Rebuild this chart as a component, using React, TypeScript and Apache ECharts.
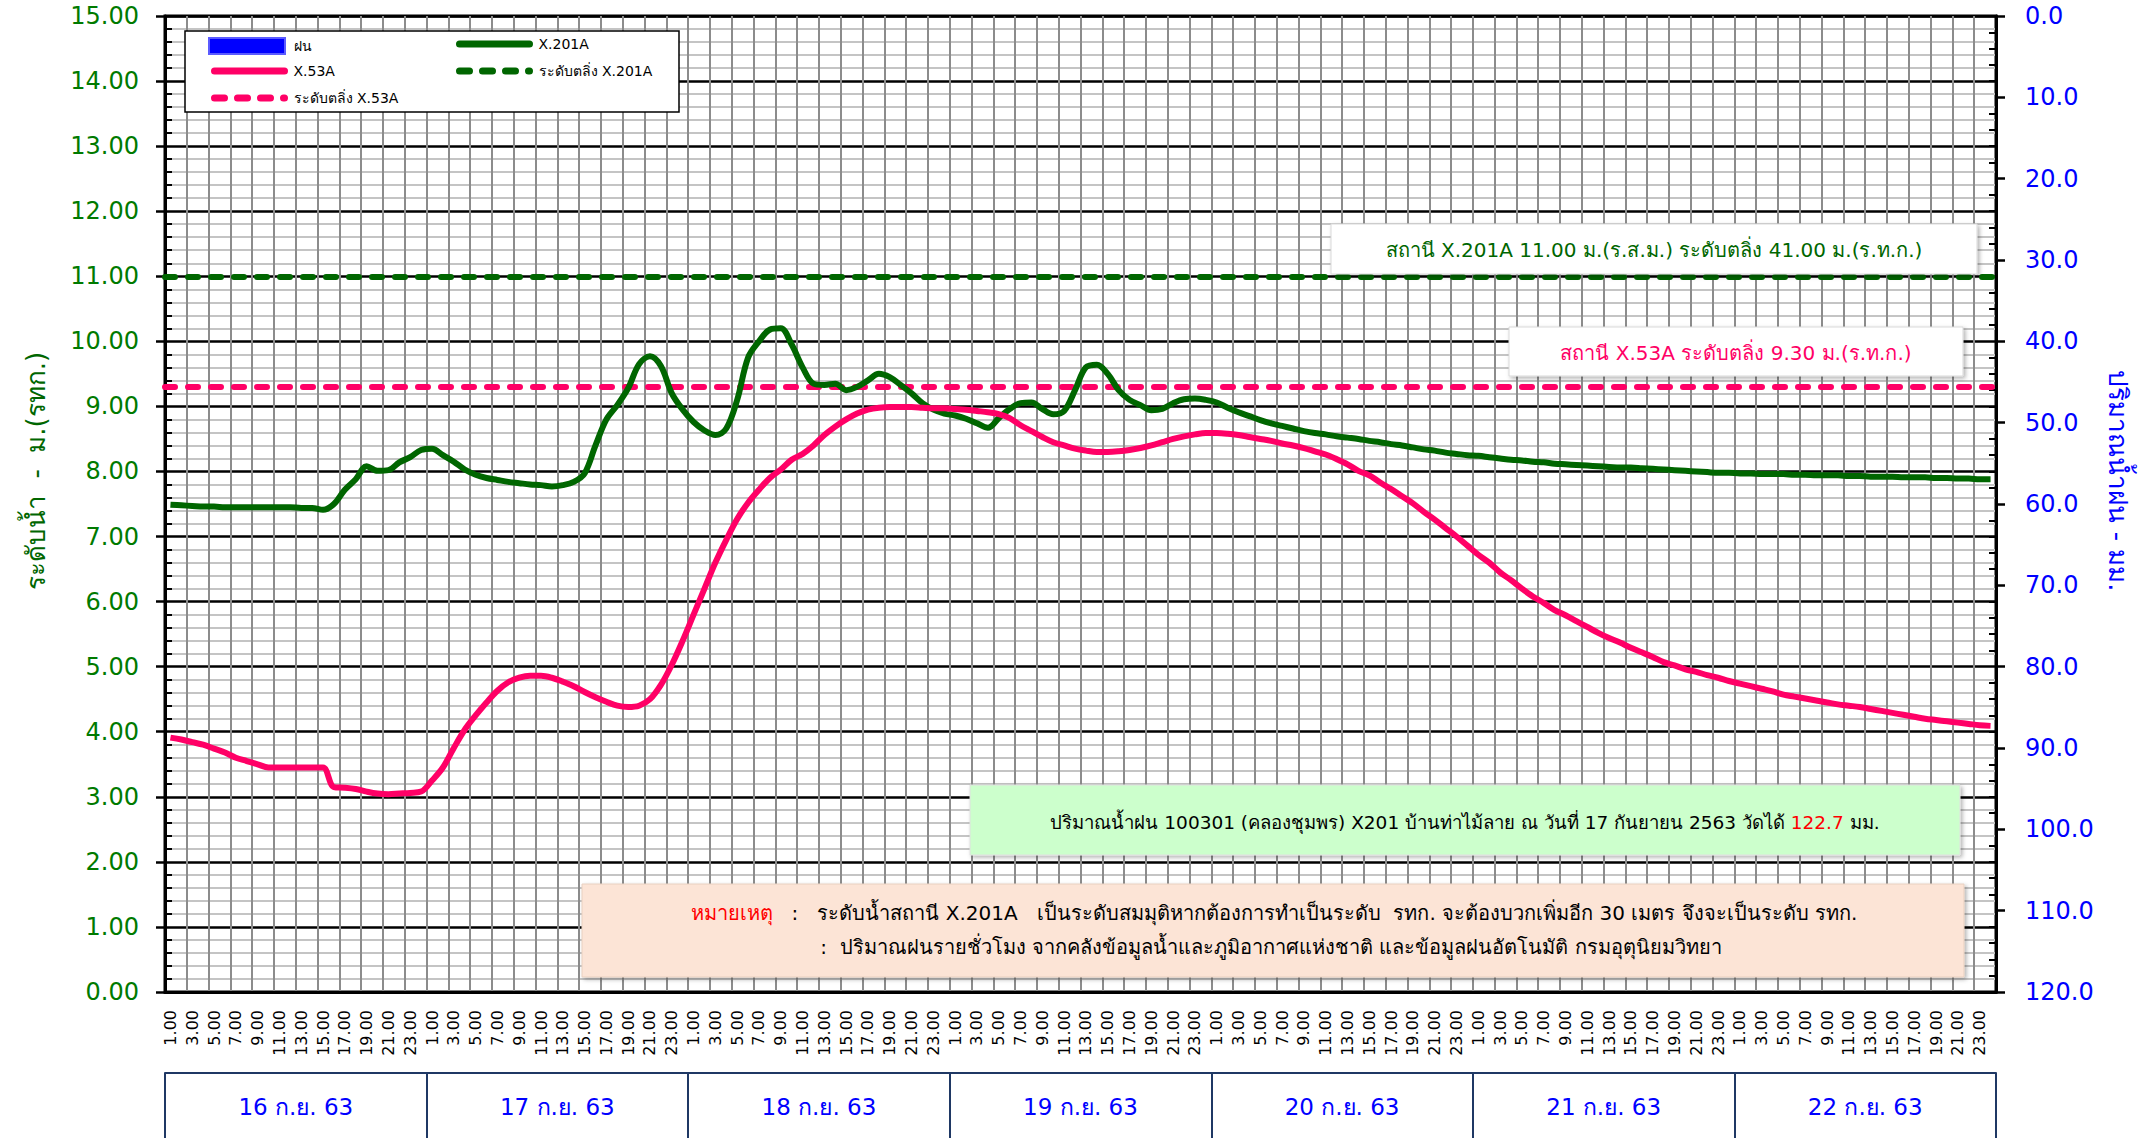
import React, { useEffect, useRef } from 'react';
import * as echarts from 'echarts';

const DAYS = ['16 ก.ย. 63', '17 ก.ย. 63', '18 ก.ย. 63', '19 ก.ย. 63', '20 ก.ย. 63', '21 ก.ย. 63', '22 ก.ย. 63'];
const HOURS = ['1.00', '2.00', '3.00', '4.00', '5.00', '6.00', '7.00', '8.00', '9.00', '10.00', '11.00', '12.00',
  '13.00', '14.00', '15.00', '16.00', '17.00', '18.00', '19.00', '20.00', '21.00', '22.00', '23.00', '24.00'];

// ระดับน้ำ X.201A (ม.) hourly
const X201A = [
  7.49, 7.48, 7.47, 7.46, 7.46, 7.45, 7.45, 7.45, 7.45, 7.45, 7.45, 7.45, 7.44, 7.44, 7.41, 7.50, 7.72, 7.88, 8.08, 8.01, 8.02, 8.14, 8.22, 8.33,
  8.35, 8.25, 8.15, 8.03, 7.95, 7.90, 7.87, 7.84, 7.82, 7.80, 7.79, 7.77, 7.79, 7.84, 7.97, 8.40, 8.80, 9.02, 9.28, 9.65, 9.77, 9.62, 9.20, 8.95,
  8.76, 8.63, 8.56, 8.66, 9.10, 9.75, 10.00, 10.18, 10.20, 9.95, 9.60, 9.35, 9.33, 9.35, 9.25, 9.30, 9.40, 9.50, 9.45, 9.33, 9.20, 9.05, 8.95, 8.89,
  8.86, 8.81, 8.74, 8.67, 8.82, 8.96, 9.05, 9.06, 8.96, 8.88, 8.93, 9.25, 9.60, 9.64, 9.50, 9.25, 9.10, 9.02, 8.94, 8.96, 9.05, 9.11, 9.12, 9.10,
  9.06, 8.98, 8.91, 8.85, 8.79, 8.74, 8.70, 8.66, 8.62, 8.59, 8.57, 8.54, 8.52, 8.50, 8.47, 8.45, 8.42, 8.40, 8.37, 8.34, 8.32, 8.29, 8.27, 8.25,
  8.24, 8.22, 8.20, 8.18, 8.17, 8.15, 8.14, 8.12, 8.11, 8.10, 8.09, 8.08, 8.07, 8.06, 8.06, 8.05, 8.04, 8.03, 8.02, 8.01, 8.00, 7.99, 7.98, 7.98,
  7.97, 7.97, 7.96, 7.96, 7.96, 7.95, 7.95, 7.94, 7.94, 7.94, 7.93, 7.93, 7.92, 7.92, 7.92, 7.91, 7.91, 7.91, 7.90, 7.90, 7.89, 7.89, 7.88, 7.88,
];

// ระดับน้ำ X.53A (ม.รทก.) hourly
const X53A = [
  3.91, 3.88, 3.84, 3.80, 3.74, 3.68, 3.60, 3.55, 3.50, 3.45, 3.45, 3.45, 3.45, 3.45, 3.45, 3.15, 3.14, 3.12, 3.08, 3.05, 3.04, 3.05, 3.06, 3.08,
  3.25, 3.45, 3.75, 4.03, 4.25, 4.45, 4.63, 4.76, 4.83, 4.86, 4.86, 4.83, 4.77, 4.70, 4.61, 4.53, 4.46, 4.40, 4.38, 4.40, 4.50, 4.72, 5.03, 5.40,
  5.80, 6.20, 6.60, 6.95, 7.27, 7.52, 7.72, 7.90, 8.03, 8.18, 8.27, 8.40, 8.56, 8.69, 8.80, 8.89, 8.95, 8.98, 8.99, 8.99, 8.99, 8.98, 8.97, 8.97,
  8.96, 8.95, 8.93, 8.91, 8.88, 8.82, 8.71, 8.62, 8.53, 8.45, 8.40, 8.35, 8.32, 8.30, 8.30, 8.31, 8.33, 8.36, 8.40, 8.45, 8.50, 8.54, 8.57, 8.59,
  8.59, 8.58, 8.56, 8.53, 8.50, 8.47, 8.43, 8.40, 8.36, 8.31, 8.26, 8.19, 8.11, 8.01, 7.94, 7.83, 7.73, 7.62, 7.51, 7.38, 7.26, 7.13, 7.00, 6.86,
  6.72, 6.60, 6.45, 6.33, 6.20, 6.08, 5.98, 5.87, 5.79, 5.70, 5.61, 5.52, 5.44, 5.37, 5.29, 5.22, 5.15, 5.07, 5.02, 4.96, 4.92, 4.87, 4.83, 4.78,
  4.74, 4.70, 4.66, 4.62, 4.57, 4.54, 4.51, 4.48, 4.45, 4.42, 4.40, 4.38, 4.35, 4.32, 4.29, 4.26, 4.23, 4.20, 4.18, 4.16, 4.14, 4.12, 4.10, 4.09,
];

// ฝน (มม.) — no rainfall bars visible in the period
const RAIN: number[] = [];

const BANK_X201A = 11.0;
const BANK_X53A = 9.3;

const LEFT_MIN = 0, LEFT_MAX = 15, LEFT_STEP = 1;
const RIGHT_MIN = 0, RIGHT_MAX = 120, RIGHT_STEP = 10;

const FONT = "Tahoma, 'DejaVu Sans', 'Noto Sans', sans-serif";
const GREEN = '#006600';
const PINK = '#FF0066';
const BLUE = '#0000FF';
const NAVY = '#1F3864';
const DASH = [10, 13];

const categories = DAYS.flatMap((d) => HOURS.map((h) => `${d}|${h}`));

function legendItem(name: string, left: number, cy: number, dashed: boolean | null) {
  const base: any = {
    data: [name],
    left,
    top: cy - 8,
    padding: 0,
    itemWidth: 70,
    itemHeight: 16,
    itemGap: 0,
    z: 120,
    textStyle: { fontSize: 14, color: '#000', fontFamily: FONT, padding: [0, 0, 0, 4] },
  };
  if (dashed === null) {
    base.icon = 'rect';
    base.itemWidth = 76;
    base.itemHeight = 16;
  } else {
    base.itemStyle = { opacity: 0 };
    base.lineStyle = { width: 7, cap: 'round', type: dashed ? DASH : 'solid' };
  }
  return base;
}

const boxStyle = (fill: string, stroke: string) => ({
  fill, stroke, lineWidth: 1, shadowBlur: 4, shadowOffsetX: 2, shadowOffsetY: 2, shadowColor: 'rgba(0,0,0,0.3)',
});

function buildOption(): any {
  return {
    animation: false,
    backgroundColor: '#fff',
    grid: { left: 165, top: 16, width: 1831, height: 976, show: true, borderColor: '#000', borderWidth: 3, containLabel: false },
    legend: [
      legendItem('ฝน', 208, 45, null),
      legendItem('X.201A', 456, 45, false),
      legendItem('X.53A', 211, 72, false),
      legendItem('ระดับตลิ่ง X.201A', 456, 72, true),
      legendItem('ระดับตลิ่ง X.53A', 211, 99, true),
    ],
    xAxis: [
      {
        type: 'category', data: categories, boundaryGap: true, gridIndex: 0,
        axisLine: { onZero: false, lineStyle: { color: '#000', width: 3 } },
        axisTick: { interval: 1, length: 7, lineStyle: { color: '#000', width: 2 } },
        axisLabel: {
          interval: 1, rotate: 90, fontSize: 16, fontFamily: FONT, color: '#000', margin: 18,
          formatter: (v: string) => v.split('|')[1],
        },
        splitLine: { show: true, interval: 1, lineStyle: { color: '#8C8C8C', width: 2 } },
      },
      {
        type: 'category', data: DAYS, position: 'bottom', offset: 81, boundaryGap: true, gridIndex: 0,
        axisLine: { show: true, onZero: false, lineStyle: { color: NAVY, width: 2 } },
        axisTick: { show: true, interval: 0, length: 80, lineStyle: { color: NAVY, width: 2 } },
        axisLabel: { interval: 0, fontSize: 23, color: BLUE, margin: 22, fontFamily: FONT },
        splitLine: { show: false },
      },
    ],
    yAxis: [
      {
        type: 'value', min: LEFT_MIN, max: LEFT_MAX, interval: LEFT_STEP, position: 'left',
        name: 'ระดับน้ำ  -  ม.(รทก.)', nameLocation: 'middle', nameRotate: 90, nameGap: 116,
        nameTextStyle: { color: GREEN, fontSize: 26, fontFamily: FONT, padding: [0, 0, 0, 66] },
        axisLine: { show: true, lineStyle: { color: '#000', width: 3 } },
        axisTick: { show: true, length: 9, lineStyle: { color: '#000', width: 2.5 } },
        minorTick: { show: true, splitNumber: 5, length: -7, lineStyle: { color: '#000', width: 2 } },
        axisLabel: { formatter: (v: number) => v.toFixed(2), color: '#007A00', fontSize: 24, margin: 26, fontFamily: FONT },
        splitLine: { show: true, lineStyle: { color: '#000', width: 2.5 } },
        minorSplitLine: { show: true, lineStyle: { color: '#C4C4C4', width: 2 } },
      },
      {
        type: 'value', min: RIGHT_MIN, max: RIGHT_MAX, interval: RIGHT_STEP, position: 'right', inverse: true,
        name: 'ปริมาณน้ำฝน - มม.', nameLocation: 'middle', nameRotate: -90, nameGap: 97,
        nameTextStyle: { color: BLUE, fontSize: 26, fontFamily: FONT, padding: [0, 46, 0, 0] },
        axisLine: { show: true, lineStyle: { color: '#000', width: 3 } },
        axisTick: { show: true, length: 9, lineStyle: { color: '#000', width: 2.5 } },
        minorTick: { show: true, splitNumber: 5, length: -7, lineStyle: { color: '#000', width: 2 } },
        axisLabel: { formatter: (v: number) => v.toFixed(1), color: BLUE, fontSize: 24, margin: 29, fontFamily: FONT },
        splitLine: { show: false },
      },
    ],
    series: [
      {
        name: 'ฝน', type: 'bar', yAxisIndex: 1, data: RAIN,
        itemStyle: { color: BLUE, borderColor: '#5B5BFF', borderWidth: 1 },
      },
      {
        name: 'X.201A', type: 'line', data: X201A, smooth: 0.35, symbol: 'none', z: 5,
        lineStyle: { color: GREEN, width: 6 }, itemStyle: { color: GREEN },
      },
      {
        name: 'X.53A', type: 'line', data: X53A, smooth: 0.35, symbol: 'none', z: 5,
        lineStyle: { color: PINK, width: 6 }, itemStyle: { color: PINK },
      },
      {
        name: 'ระดับตลิ่ง X.201A', type: 'line', data: [], symbol: 'none', z: 4,
        lineStyle: { color: GREEN, width: 6, type: DASH, cap: 'round' }, itemStyle: { color: GREEN },
        markLine: {
          silent: true, symbol: 'none', label: { show: false },
          lineStyle: { color: GREEN, width: 6, type: DASH, cap: 'round' },
          data: [{ yAxis: BANK_X201A }],
        },
      },
      {
        name: 'ระดับตลิ่ง X.53A', type: 'line', data: [], symbol: 'none', z: 4,
        lineStyle: { color: PINK, width: 6, type: DASH, cap: 'round' }, itemStyle: { color: PINK },
        markLine: {
          silent: true, symbol: 'none', label: { show: false },
          lineStyle: { color: PINK, width: 6, type: DASH, cap: 'round' },
          data: [{ yAxis: BANK_X53A }],
        },
      },
    ],
    graphic: [
      // legend frame
      { type: 'rect', z: 100, shape: { x: 185, y: 31, width: 494, height: 81 }, style: { fill: '#fff', stroke: '#000', lineWidth: 1.5 } },
      // X.201A note
      { type: 'rect', z: 100, shape: { x: 1331, y: 224, width: 646, height: 50 }, style: boxStyle('#fff', '#D9D9D9') },
      {
        type: 'text', z: 101, x: 1654, y: 250,
        style: { text: 'สถานี X.201A 11.00 ม.(ร.ส.ม.) ระดับตลิ่ง 41.00 ม.(ร.ท.ก.)', fill: GREEN, fontSize: 20, fontFamily: FONT, align: 'center', verticalAlign: 'middle' },
      },
      // X.53A note
      { type: 'rect', z: 100, shape: { x: 1509, y: 327, width: 454, height: 49 }, style: boxStyle('#fff', '#D9D9D9') },
      {
        type: 'text', z: 101, x: 1736, y: 353,
        style: { text: 'สถานี X.53A ระดับตลิ่ง 9.30 ม.(ร.ท.ก.)', fill: PINK, fontSize: 20, fontFamily: FONT, align: 'center', verticalAlign: 'middle' },
      },
      // rainfall note
      { type: 'rect', z: 100, shape: { x: 970, y: 785, width: 990, height: 70 }, style: boxStyle('#CCFFCC', '#E0E0E0') },
      {
        type: 'text', z: 101, x: 1465, y: 822,
        style: {
          text: '{a|ปริมาณน้ำฝน 100301 (คลองชุมพร) X201 บ้านท่าไม้ลาย ณ วันที่ 17 กันยายน 2563 วัดได้ }{b|122.7}{a| มม.}',
          fontSize: 18.5, fontFamily: FONT, align: 'center', verticalAlign: 'middle',
          rich: {
            a: { fill: '#000', fontSize: 18.5, fontFamily: FONT },
            b: { fill: '#FF0000', fontSize: 18.5, fontFamily: FONT },
          },
        },
      },
      // remark box
      { type: 'rect', z: 100, shape: { x: 582, y: 884, width: 1382, height: 93 }, style: boxStyle('#FCE4D6', '#E8D0C0') },
      {
        type: 'text', z: 101, x: 1274, y: 913,
        style: {
          text: '{r|หมายเหตุ}{a|   :   ระดับน้ำสถานี X.201A   เป็นระดับสมมุติหากต้องการทำเป็นระดับ  รทก. จะต้องบวกเพิ่มอีก 30 เมตร จึงจะเป็นระดับ รทก.}',
          fontSize: 20, fontFamily: FONT, align: 'center', verticalAlign: 'middle',
          rich: {
            a: { fill: '#000', fontSize: 20, fontFamily: FONT },
            r: { fill: '#FF0000', fontSize: 20, fontFamily: FONT },
          },
        },
      },
      {
        type: 'text', z: 101, x: 1271, y: 947,
        style: {
          text: ':  ปริมาณฝนรายชั่วโมง จากคลังข้อมูลน้ำและภูมิอากาศแห่งชาติ และข้อมูลฝนอัตโนมัติ กรมอุตุนิยมวิทยา',
          fill: '#000', fontSize: 20, fontFamily: FONT, align: 'center', verticalAlign: 'middle',
        },
      },
    ],
  };
}

export default function App() {
  const ref = useRef<HTMLDivElement>(null);
  useEffect(() => {
    if (!ref.current) return;
    const chart = echarts.init(ref.current, null, { renderer: 'svg' });
    chart.setOption(buildOption());
    return () => chart.dispose();
  }, []);
  return (
    <div
      ref={ref}
      style={{ position: 'fixed', left: 0, top: 0, width: 2149, height: 1138, background: '#fff' }}
    />
  );
}
